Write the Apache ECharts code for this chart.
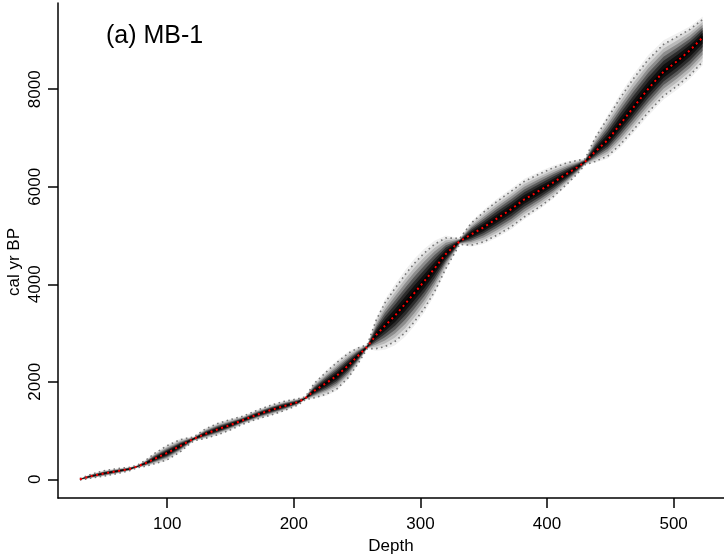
<!DOCTYPE html>
<html><head><meta charset="utf-8">
<script src="https://cdn.jsdelivr.net/npm/echarts@6/dist/echarts.min.js"></script>
<style>html,body{margin:0;padding:0;background:#fff}#c{width:724px;height:559px}</style>
</head><body><div id="c"></div>
<script>
const depths  = [31, 40, 50, 60, 70, 76, 83, 90, 100, 110, 117, 121, 130, 140, 150, 160, 171, 182, 192, 203, 209, 216, 226, 234, 243, 250, 258, 265, 272, 280, 288, 295, 303, 311, 320, 331, 340, 350, 360, 372, 382, 395, 405, 416, 424, 430, 438, 448, 458, 468, 480, 492, 503, 513, 523];
const ageMean = [0, 65, 120, 165, 210, 258, 330, 420, 540, 680, 780, 830, 930, 1025, 1115, 1215, 1325, 1420, 1500, 1580, 1661, 1811, 1980, 2125, 2335, 2515, 2720, 2960, 3150, 3360, 3600, 3815, 4060, 4320, 4620, 4880, 5020, 5170, 5340, 5544, 5740, 5934, 6090, 6270, 6400, 6510, 6720, 6960, 7290, 7620, 8010, 8360, 8580, 8800, 9065];
const ageMax  = [15, 105, 175, 215, 245, 283, 390, 530, 690, 810, 850, 870, 1030, 1145, 1225, 1295, 1415, 1520, 1595, 1650, 1691, 1961, 2210, 2395, 2585, 2685, 2760, 3260, 3620, 3920, 4200, 4425, 4640, 4820, 4950, 4940, 5250, 5480, 5690, 5914, 6110, 6274, 6390, 6490, 6540, 6570, 7000, 7410, 7830, 8210, 8610, 8920, 9080, 9230, 9435];
const ageMin  = [-15, 25, 65, 115, 175, 233, 270, 320, 400, 560, 710, 790, 840, 915, 1015, 1135, 1235, 1320, 1405, 1520, 1631, 1671, 1750, 1855, 2085, 2345, 2680, 2680, 2720, 2830, 3010, 3225, 3500, 3840, 4320, 4820, 4800, 4870, 5000, 5184, 5380, 5604, 5800, 6060, 6270, 6450, 6520, 6630, 6870, 7160, 7530, 7860, 8070, 8290, 8565];
const xTicks = [100, 200, 300, 400, 500];
const yTicks = [0, 2000, 4000, 6000, 8000];
const titleText = '(a) MB-1';
const xName = 'Depth';
const yName = 'cal yr BP';

// shading layers (fraction of the 95% half-range, opacity)
const shadeLevels = [1.15, 1.0, 0.85, 0.7, 0.55, 0.4, 0.25, 0.1];
const shadeAlpha  = [0.06, 0.09, 0.15, 0.24, 0.36, 0.50, 0.65, 0.85];

const FONT = '"Liberation Sans", Arial, Helvetica, sans-serif';
const chart = echarts.init(document.getElementById('c'), null, {renderer: 'canvas'});

function renderShade(params, api) {
  if (params.dataIndex !== 0) return;
  const children = shadeLevels.map((f, k) => {
    const up = [], lo = [];
    for (let i = 0; i < depths.length; i++) {
      const m = ageMean[i];
      up.push(api.coord([depths[i], m + f * (ageMax[i] - m)]));
      lo.push(api.coord([depths[i], m - f * (m - ageMin[i])]));
    }
    return {
      type: 'polygon',
      shape: {points: up.concat(lo.reverse())},
      style: {fill: 'rgba(0,0,0,' + shadeAlpha[k] + ')', stroke: null}
    };
  });
  return {type: 'group', children};
}

const pairs = arr => depths.map((d, i) => [d, arr[i]]);
const plain = v => String(v);

chart.setOption({
  animation: false,
  backgroundColor: '#fff',
  grid: {left: 58, top: 3, right: 0, bottom: 61, containLabel: false, outerBoundsMode: 'none'},
  xAxis: {
    type: 'value', min: 13.7, max: 539.8,
    name: xName, nameLocation: 'middle', nameGap: 36,
    nameTextStyle: {color: '#000', fontSize: 17, fontFamily: FONT},
    axisLine: {show: true, onZero: false, lineStyle: {color: '#000', width: 1.5}},
    axisTick: {show: true, length: 10, customValues: xTicks, lineStyle: {color: '#000', width: 1.5}},
    axisLabel: {show: true, customValues: xTicks, formatter: plain, margin: 18, color: '#000', fontSize: 17, fontFamily: FONT},
    splitLine: {show: false}
  },
  yAxis: {
    type: 'value', min: -384, max: 9769,
    axisLine: {show: true, onZero: false, lineStyle: {color: '#000', width: 1.5}},
    axisTick: {show: true, length: 10, customValues: yTicks, lineStyle: {color: '#000', width: 1.5}},
    axisLabel: {show: true, customValues: yTicks, formatter: plain, rotate: 90, margin: 14, color: '#000', fontSize: 17, fontFamily: FONT},
    splitLine: {show: false}
  },
  graphic: [{
    type: 'text', left: 106, top: 24, z: 100,
    style: {text: titleText, font: '25px ' + FONT, fill: '#000'}
  }, {
    type: 'text', x: 14, y: 262, rotation: Math.PI / 2, z: 100,
    style: {text: yName, font: '17px ' + FONT, fill: '#000', align: 'center', verticalAlign: 'middle'}
  }],
  series: [
    {
      type: 'custom', renderItem: renderShade, clip: true,
      data: [[depths[0], ageMean[0]]], encode: {x: 0, y: 1}, silent: true, z: 1
    },
    {
      type: 'line', data: pairs(ageMax), symbol: 'none', z: 3, silent: true,
      lineStyle: {color: '#777777', width: 1.6, type: [1.6, 3.4]}
    },
    {
      type: 'line', data: pairs(ageMin), symbol: 'none', z: 3, silent: true,
      lineStyle: {color: '#777777', width: 1.6, type: [1.6, 3.4]}
    },
    {
      type: 'line', data: pairs(ageMean), symbol: 'none', z: 4, silent: true,
      lineStyle: {color: '#ff0000', width: 2, type: [2, 3.6]}
    }
  ]
});
</script>
</body></html>
